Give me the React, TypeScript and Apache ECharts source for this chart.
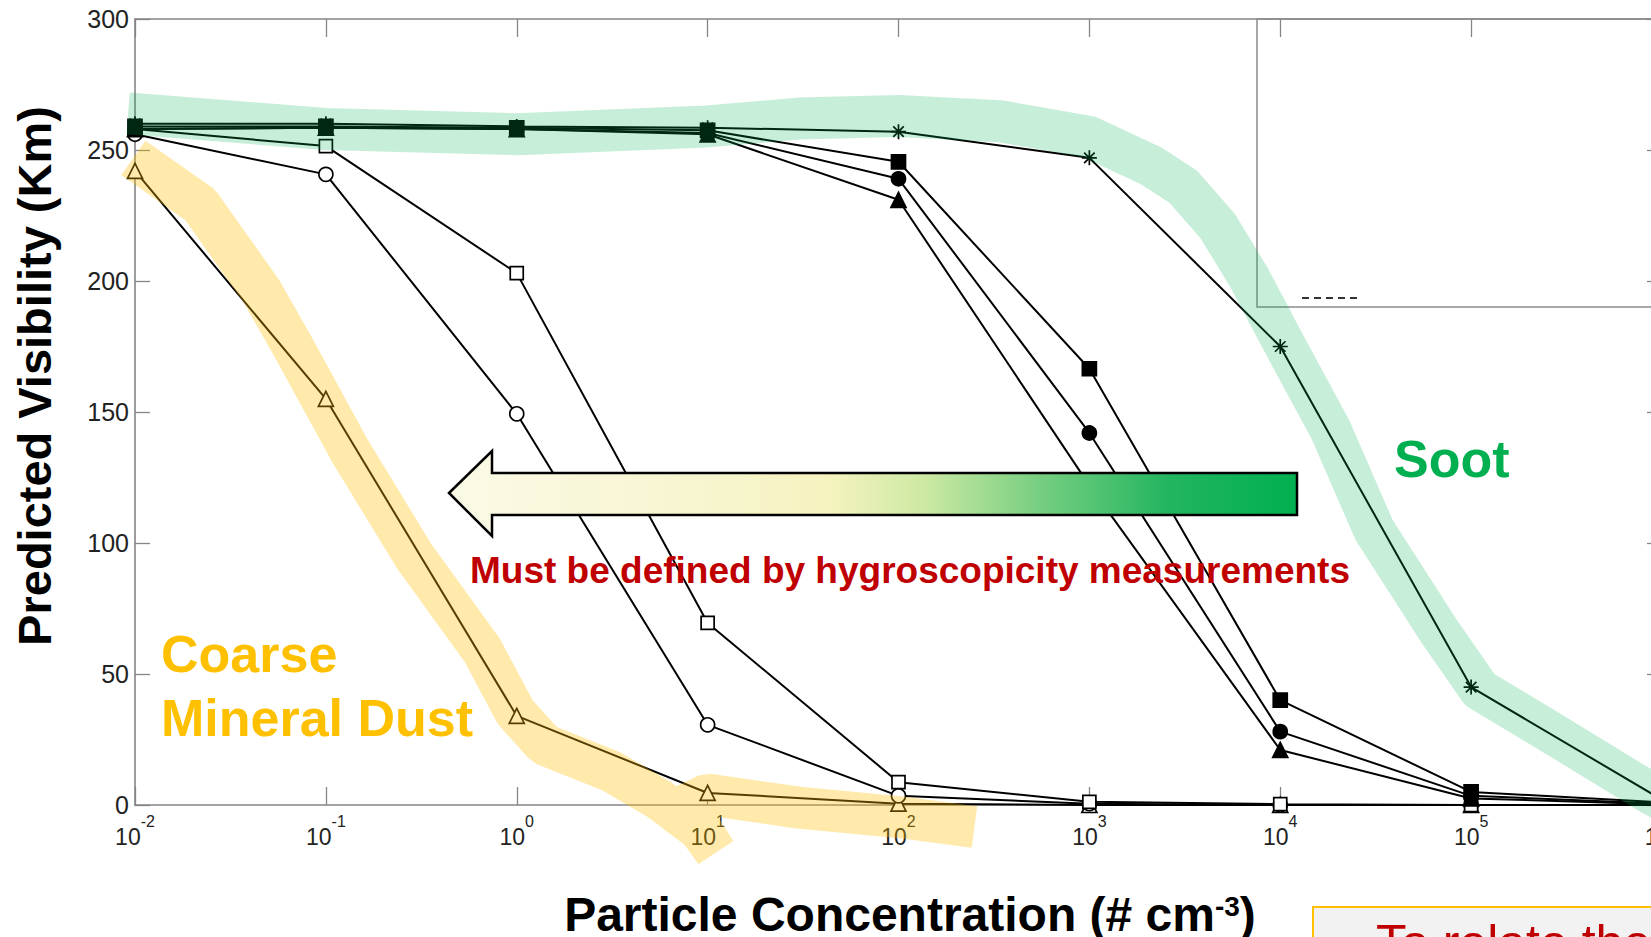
import React, { useEffect, useRef } from "react";
import * as echarts from "echarts";

// ---------- data ----------
const concentrations = [0.01, 0.1, 1, 10, 100, 1000, 10000, 100000, 1000000];
const sootStar = [260, 260, 259, 258.5, 257, 247, 175, 45, 2];
const filledSquare = [259, 259, 258.5, 257.5, 245.5, 166.5, 40, 5, 1];
const filledCircle = [258, 258.5, 258, 256.5, 239, 142, 28, 3.5, 0.5];
const filledTriangle = [258, 258.5, 258, 256, 231, 122, 21, 2.5, 0.3];
const openSquare = [258, 251.5, 203, 69.5, 8.7, 1.2, 0.3, 0, 0];
const openCircle = [256, 240.7, 149.3, 30.6, 3.5, 0.5, 0, 0, 0];
const openTriangle = [242, 155, 34, 4.6, 0.5, 0, 0, 0, 0];

// hand-drawn highlight strokes (data coordinates)
const sootBandX = [0.0092, 0.1, 1, 10, 30, 100, 340, 1000, 2100, 3100, 4700, 6900, 10300, 18400, 31000, 67000, 111000, 258000, 863000, 1600000];
const sootBandY = [264, 258, 256, 259, 262, 263, 261, 255, 244, 236, 221, 201, 177, 143, 105, 67, 44, 28, 4.6, -6];
const dustBandX = [0.0098, 0.022, 0.046, 0.066, 0.134, 0.29, 0.66, 0.98, 1.4, 3.1, 5.6, 9.1, 11, 7.7, 10, 30, 100, 250];
const dustBandY = [247, 229, 196, 176, 135, 95, 59, 35.5, 23, 13, 2, -9.5, -18, 0, 4, -1, -4.6, -8.4];

const yMin = 0;
const yMax = 300;
const yStep = 50;
const xMin = 0.01;
const xMax = 1000000;

const FONT = '"Liberation Sans", Arial, Helvetica, sans-serif';
const STAR = "path://M0,-10L0,10M-10,0L10,0M-7,-7L7,7M-7,7L7,-7";

function pairs(xs: number[], ys: number[]) {
  return xs.map((x, i) => [x, ys[i]]);
}

function dataSeries(name: string, values: number[], symbol: string, size: number, fill: string) {
  return {
    type: "line",
    name,
    data: pairs(concentrations, values),
    symbol,
    symbolSize: size,
    showAllSymbol: true,
    silent: true,
    z: 3,
    lineStyle: { color: "#000", width: 2 },
    itemStyle: { color: fill, borderColor: "#000", borderWidth: 1.7 },
  };
}

function bandSeries(name: string, xs: number[], ys: number[], color: string, join: string) {
  return {
    type: "line",
    name,
    data: pairs(xs, ys),
    symbol: "none",
    silent: true,
    clip: false,
    z: 5,
    lineStyle: { color, width: 42, cap: "butt", join },
  };
}

const axisGray = "#858585";

export default function App() {
  const ref = useRef<HTMLDivElement>(null);

  useEffect(() => {
    const el = ref.current!;
    const chart = echarts.init(el, null, { renderer: "svg", width: 1651, height: 937 });

    const xLabelRich = {
      b: { fontSize: 23, fontFamily: FONT, color: "#222", lineHeight: 35, verticalAlign: "bottom" },
      s: { fontSize: 16, fontFamily: FONT, color: "#222", lineHeight: 16, verticalAlign: "top" },
    };

    const option: any = {
      animation: false,
      backgroundColor: "#fff",
      grid: {
        left: 135,
        top: 19,
        width: 1527,
        height: 786,
        containLabel: false,
        outerBoundsMode: "none",
      },
      xAxis: [
        {
          type: "log",
          logBase: 10,
          min: xMin,
          max: xMax,
          position: "bottom",
          axisLine: { show: true, onZero: false, lineStyle: { color: axisGray, width: 1.6 } },
          axisTick: { show: true, inside: true, length: 18, lineStyle: { color: axisGray, width: 1.3 } },
          minorTick: { show: false },
          splitLine: { show: false },
          axisLabel: {
            show: true,
            margin: 8,
            showMinLabel: true,
            showMaxLabel: true,
            hideOverlap: false,
            formatter: (v: number) => `{b|10}{s|${Math.round(Math.log10(v))}}`,
            rich: xLabelRich,
          },
        },
        {
          type: "log",
          logBase: 10,
          min: xMin,
          max: xMax,
          position: "top",
          axisLine: { show: true, onZero: false, lineStyle: { color: axisGray, width: 1.6 } },
          axisTick: { show: true, inside: true, length: 18, lineStyle: { color: axisGray, width: 1.3 } },
          minorTick: { show: false },
          splitLine: { show: false },
          axisLabel: { show: false },
        },
      ],
      yAxis: [
        {
          type: "value",
          min: yMin,
          max: yMax,
          interval: yStep,
          position: "left",
          axisLine: { show: true, onZero: false, lineStyle: { color: axisGray, width: 1.6 } },
          axisTick: { show: true, inside: true, length: 15, lineStyle: { color: axisGray, width: 1.3 } },
          splitLine: { show: false },
          axisLabel: { show: true, margin: 6, fontSize: 25, fontFamily: FONT, color: "#222" },
        },
        {
          type: "value",
          min: yMin,
          max: yMax,
          interval: yStep,
          position: "right",
          axisLine: { show: true, onZero: false, lineStyle: { color: axisGray, width: 1.6 } },
          axisTick: { show: true, inside: true, length: 15, lineStyle: { color: axisGray, width: 1.3 } },
          splitLine: { show: false },
          axisLabel: { show: false },
        },
      ],
      series: [
        dataSeries("Open triangle", openTriangle, "triangle", 15, "#fff"),
        dataSeries("Open circle", openCircle, "circle", 14, "#fff"),
        dataSeries("Open square", openSquare, "rect", 13, "#fff"),
        dataSeries("Filled triangle", filledTriangle, "triangle", 15, "#000"),
        dataSeries("Filled circle", filledCircle, "circle", 14, "#000"),
        dataSeries("Soot", sootStar, STAR, 15, "#000"),
        dataSeries("Filled square", filledSquare, "rect", 14, "#000"),
        bandSeries("Soot highlight", sootBandX, sootBandY, "rgba(0,176,80,0.22)", "round"),
        bandSeries("Dust highlight", dustBandX, dustBandY, "rgba(255,192,0,0.33)", "bevel"),
      ],
      graphic: [
        {
          type: "rect",
          z: 1,
          silent: true,
          shape: { x: 1257, y: 19, width: 450, height: 288 },
          style: { fill: "none", stroke: "#8c8c8c", lineWidth: 1.5 },
        },
        {
          type: "line",
          z: 1,
          silent: true,
          shape: { x1: 1302, y1: 298, x2: 1357, y2: 298 },
          style: { stroke: "#333", lineWidth: 2, lineDash: [7, 5] },
        },
        {
          type: "polygon",
          z: 100,
          silent: true,
          shape: {
            points: [
              [449, 493],
              [492, 451],
              [492, 473],
              [1297, 473],
              [1297, 515],
              [492, 515],
              [492, 536],
            ],
          },
          style: {
            fill: new echarts.graphic.LinearGradient(0, 0, 1, 0, [
              { offset: 0, color: "#FBFAE6" },
              { offset: 0.3, color: "#F7F5CF" },
              { offset: 0.45, color: "#F5F3BF" },
              { offset: 0.56, color: "#CDE9A3" },
              { offset: 0.7, color: "#74CE80" },
              { offset: 0.85, color: "#22B560" },
              { offset: 1, color: "#00B050" },
            ]),
            stroke: "#000",
            lineWidth: 2.5,
          },
        },
        {
          type: "text",
          z: 101,
          silent: true,
          style: {
            text: "Must be defined by hygroscopicity measurements",
            x: 470,
            y: 570,
            fill: "#C00000",
            font: `bold 37px ${FONT}`,
            align: "left",
            verticalAlign: "middle",
          },
        },
        {
          type: "text",
          z: 101,
          silent: true,
          style: {
            text: "Soot",
            x: 1394,
            y: 459,
            fill: "#00B050",
            font: `bold 52px ${FONT}`,
            align: "left",
            verticalAlign: "middle",
          },
        },
        {
          type: "text",
          z: 101,
          silent: true,
          style: {
            text: "Coarse",
            x: 161,
            y: 654,
            fill: "#FFC000",
            font: `bold 52px ${FONT}`,
            align: "left",
            verticalAlign: "middle",
          },
        },
        {
          type: "text",
          z: 101,
          silent: true,
          style: {
            text: "Mineral Dust",
            x: 161,
            y: 718,
            fill: "#FFC000",
            font: `bold 52px ${FONT}`,
            align: "left",
            verticalAlign: "middle",
          },
        },
        {
          type: "text",
          z: 101,
          silent: true,
          x: 34,
          y: 376,
          rotation: Math.PI / 2,
          style: {
            text: "Predicted Visibility (Km)",
            x: 0,
            y: 0,
            fill: "#000",
            font: `bold 47px ${FONT}`,
            align: "center",
            verticalAlign: "middle",
          },
        },
        {
          type: "text",
          z: 101,
          silent: true,
          style: {
            text: "{t|Particle Concentration (# cm}{s|-3}{t|)}",
            x: 910,
            y: 914,
            align: "center",
            verticalAlign: "middle",
            rich: {
              t: { fontSize: 48, fontWeight: "bold", fontFamily: FONT, fill: "#000", color: "#000", lineHeight: 44 },
              s: { fontSize: 28, fontWeight: "bold", fontFamily: FONT, fill: "#000", color: "#000", lineHeight: 18, verticalAlign: "top" },
            },
          },
        },
        {
          type: "rect",
          z: 100,
          silent: true,
          shape: { x: 1313, y: 907, width: 400, height: 80 },
          style: { fill: "#F2F2F2", stroke: "#FFC000", lineWidth: 2 },
        },
        {
          type: "text",
          z: 101,
          silent: true,
          style: {
            text: "To relate the",
            x: 1376,
            y: 918,
            fill: "#C00000",
            font: `50px ${FONT}`,
            align: "left",
            verticalAlign: "top",
          },
        },
      ],
    };

    chart.setOption(option);
    return () => chart.dispose();
  }, []);

  return (
    <div
      ref={ref}
      style={{ position: "fixed", left: 0, top: 0, width: 1651, height: 937, background: "#fff" }}
    />
  );
}
